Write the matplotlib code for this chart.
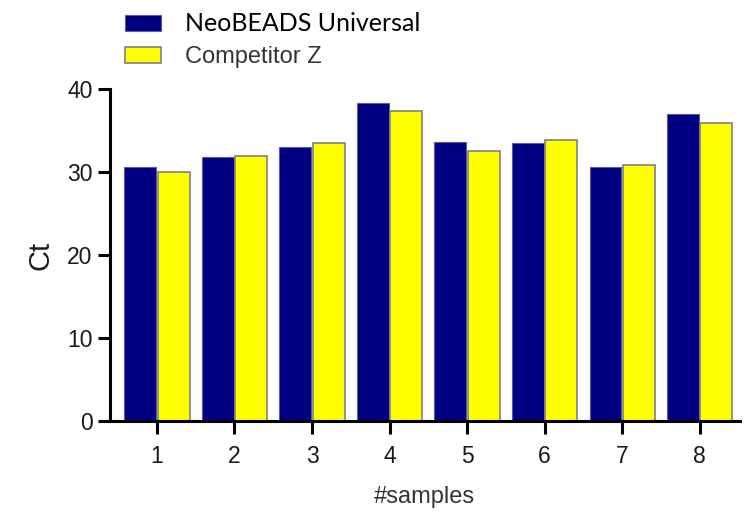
#!/usr/bin/env python3
import numpy as np
from matplotlib import pyplot as plt

# data
samples = ['1', '2', '3', '4', '5', '6', '7', '8']
neobeads = [30.6, 31.9, 33.1, 38.4, 33.7, 33.5, 30.6, 37.1]
competitor = [30.0, 32.0, 33.5, 37.4, 32.6, 33.9, 30.9, 35.9]
series_names = ['NeoBEADS Universal', 'Competitor Z']

plt.rcParams['font.family'] = ['Liberation Sans', 'DejaVu Sans']

fig = plt.figure(figsize=(7.45, 5.19), dpi=100)
ax = fig.add_axes([0.1477, 0.189, 0.845, 0.6386])

x = np.arange(1, len(samples) + 1)
w = 0.41
off = 0.215
b1 = ax.bar(x - off, neobeads, w, color='#000080', edgecolor='#5a5aa8', linewidth=0.8,
            label=series_names[0])
b2 = ax.bar(x + off, competitor, w, color='#ffff00', edgecolor='#808080', linewidth=1.2,
            label=series_names[1])

ax.set_xlim(0.395, 8.515)
ax.set_ylim(0, 40)
ax.set_yticks([0, 10, 20, 30, 40])
ax.set_xticks(x)
ax.set_xticklabels(samples)
for s in ['top', 'right']:
    ax.spines[s].set_visible(False)
for s in ['left', 'bottom']:
    ax.spines[s].set_linewidth(2.2)
ax.tick_params(axis='both', width=2.2, length=9, labelsize=16.5, color='black',
               labelcolor='#1a1a1a')
ax.tick_params(axis='x', pad=8)
ax.set_ylabel('Ct', fontsize=21, labelpad=9, color='#1a1a1a')
ax.set_xlabel('#samples', fontsize=17, labelpad=13, color='#333333')

leg = fig.legend(handles=[b1, b2], loc='upper left', bbox_to_anchor=(0.139, 1.017),
                 frameon=False, fontsize=17, handlelength=1.55, handleheight=0.7,
                 handletextpad=1.0, labelspacing=0.45)
leg.get_texts()[0].set_family(['Lato', 'DejaVu Sans'])
leg.get_texts()[0].set_fontsize(18)
leg.get_texts()[1].set_color('#333333')

plt.savefig('out.png', dpi=100)
